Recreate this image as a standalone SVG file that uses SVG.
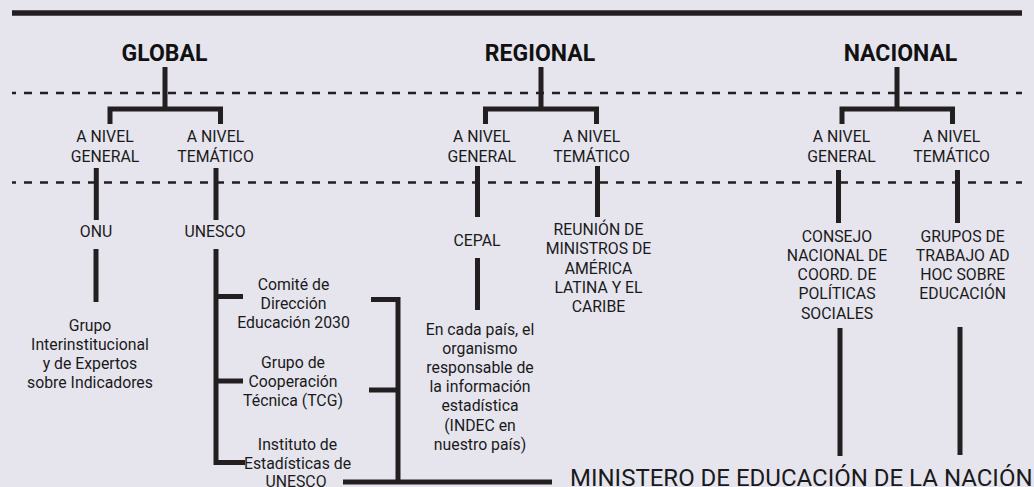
<svg xmlns="http://www.w3.org/2000/svg" width="1034" height="487" viewBox="0 0 1034 487">
<style>
  .bg { fill: #e6e5ee; }
  .ln { fill: none; stroke: #231f20; stroke-width: 5; stroke-linejoin: miter; stroke-linecap: butt; }
  .dash { fill: none; stroke: #231f20; stroke-width: 2.5; stroke-dasharray: 8 8; stroke-dashoffset: 4; }
  .h { font-family: Roboto, "Liberation Sans", sans-serif; font-weight: 700; font-size: 23px; fill: #111; text-anchor: middle; }
  .t { font-family: Roboto, "Liberation Sans", sans-serif; font-size: 15.8px; fill: #1a1a1a; text-anchor: middle; }
  .big { font-family: Roboto, "Liberation Sans", sans-serif; font-size: 24px; fill: #1a1a1a; }
</style>
<rect class="bg" x="0" y="0" width="1034" height="487"/>
<g id="frame">
  <line class="ln" x1="12" y1="13" x2="1022" y2="13" style="stroke-width:5.5"/>
  <line class="dash" x1="12" y1="93" x2="1022" y2="93"/>
  <line class="dash" x1="12" y1="182.5" x2="1022" y2="182.5"/>
</g>
<g id="connectors">
  <path class="ln" d="M165,67 V109 M110,124 V109 H220.5 V124"/>
  <path class="ln" d="M541,67 V109 M485.5,124 V109 H596.5 V124"/>
  <path class="ln" d="M897,67 V109 M842,124 V109 H952.5 V124"/>
  <path class="ln" d="M96.3,168 V220 M216,168 V220"/>
  <path class="ln" d="M477.5,166 V217 M597.5,166 V217"/>
  <path class="ln" d="M838.5,170 V223 M957.5,170 V223"/>
  <path class="ln" d="M96,249 V302"/>
  <path class="ln" d="M216,249 V462.5 H245 M216,296.5 H243 M216,381 H243"/>
  <path class="ln" d="M477.5,258 V310"/>
  <path class="ln" d="M371,299.5 H398 V482 M369,390 H398 M343,482 H552"/>
  <path class="ln" d="M840,328 V456 M960,327 V455"/>
</g>
<g id="global"><text class="h" x="164.5" y="61">GLOBAL</text></g>
<g id="regional"><text class="h" x="540" y="61">REGIONAL</text></g>
<g id="nacional"><text class="h" x="900.5" y="61">NACIONAL</text></g>
<g id="global-general"><text class="t" x="105" y="141.7">A NIVEL</text><text class="t" x="105" y="162.3">GENERAL</text></g>
<g id="global-tematico"><text class="t" x="215.5" y="141.7">A NIVEL</text><text class="t" x="215.5" y="162.3">TEMÁTICO</text></g>
<g id="regional-general"><text class="t" x="481.7" y="141.7">A NIVEL</text><text class="t" x="481.7" y="162.3">GENERAL</text></g>
<g id="regional-tematico"><text class="t" x="591.5" y="141.7">A NIVEL</text><text class="t" x="591.5" y="162.3">TEMÁTICO</text></g>
<g id="nacional-general"><text class="t" x="841.5" y="141.7">A NIVEL</text><text class="t" x="841.5" y="162.3">GENERAL</text></g>
<g id="nacional-tematico"><text class="t" x="951.5" y="141.7">A NIVEL</text><text class="t" x="951.5" y="162.3">TEMÁTICO</text></g>
<g id="onu"><text class="t" x="96" y="237">ONU</text></g>
<g id="unesco"><text class="t" x="215" y="237">UNESCO</text></g>
<g id="grupo-inter">
  <text class="t" x="90" y="330.5">Grupo</text>
  <text class="t" x="90" y="349.5">Interinstitucional</text>
  <text class="t" x="90" y="368.5">y de Expertos</text>
  <text class="t" x="90" y="387.5">sobre Indicadores</text>
</g>
<g id="comite">
  <text class="t" x="293.5" y="289.5">Comité de</text>
  <text class="t" x="293.5" y="308.5">Dirección</text>
  <text class="t" x="293.5" y="327.5">Educación 2030</text>
</g>
<g id="tcg">
  <text class="t" x="293" y="367.5">Grupo de</text>
  <text class="t" x="293" y="386.5">Cooperación</text>
  <text class="t" x="293" y="405.5">Técnica (TCG)</text>
</g>
<g id="instituto">
  <text class="t" x="297.5" y="450">Instituto de</text>
  <text class="t" x="297.5" y="468.5">Estadísticas de</text>
  <text class="t" x="296" y="487">UNESCO</text>
</g>
<g id="cepal"><text class="t" x="477" y="245.7">CEPAL</text></g>
<g id="indec">
  <text class="t" x="480" y="334.5">En cada país, el</text>
  <text class="t" x="480" y="353.7">organismo</text>
  <text class="t" x="480" y="372.9">responsable de</text>
  <text class="t" x="480" y="392.1">la información</text>
  <text class="t" x="480" y="411.3">estadística</text>
  <text class="t" x="480" y="430.5">(INDEC en</text>
  <text class="t" x="480" y="449.7">nuestro país)</text>
</g>
<g id="reunion">
  <text class="t" x="598.5" y="235">REUNIÓN DE</text>
  <text class="t" x="598.5" y="254.3">MINISTROS DE</text>
  <text class="t" x="598.5" y="273.5">AMÉRICA</text>
  <text class="t" x="598.5" y="292.7">LATINA Y EL</text>
  <text class="t" x="598.5" y="311.9">CARIBE</text>
</g>
<g id="consejo">
  <text class="t" x="837" y="241.7">CONSEJO</text>
  <text class="t" x="837" y="260.9">NACIONAL DE</text>
  <text class="t" x="837" y="280.1">COORD. DE</text>
  <text class="t" x="837" y="299.3">POLÍTICAS</text>
  <text class="t" x="837" y="318.5">SOCIALES</text>
</g>
<g id="grupos-trabajo">
  <text class="t" x="962.7" y="241.7">GRUPOS DE</text>
  <text class="t" x="962.7" y="260.9">TRABAJO AD</text>
  <text class="t" x="962.7" y="280.1">HOC SOBRE</text>
  <text class="t" x="962.7" y="299.3">EDUCACIÓN</text>
</g>
<g id="ministerio"><text class="big" x="570" y="486">MINISTERO DE EDUCACIÓN DE LA NACIÓN</text></g>
</svg>
